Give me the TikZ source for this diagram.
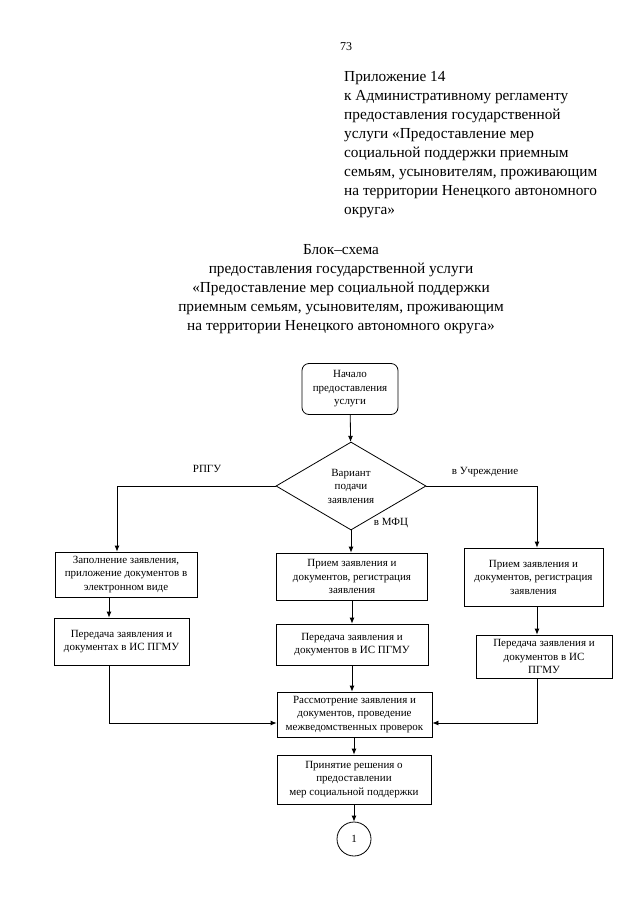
\documentclass[tikz,border=0pt]{standalone}
\usepackage{fontspec}
\setmainfont{Liberation Serif}
\usetikzlibrary{arrows.meta,positioning,shapes.geometric}
\tikzset{
  blok/.style={draw,line width=0.8pt,align=center,inner sep=2pt,
    font=\fontsize{11}{13.5}\selectfont},
  nachalo/.style={blok,rounded corners=7pt},
  vopros/.style={blok,diamond,aspect=1.7,inner sep=0pt},
  svyaz/.style={draw,circle,line width=0.8pt,inner sep=0pt,
    font=\fontsize{11}{13.5}\selectfont},
  metka/.style={font=\fontsize{11}{13.5}\selectfont},
  zagolovok/.style={inner sep=0pt,font=\fontsize{15.3}{19}\selectfont},
  arrow/.style={-{Latex[length=6pt,width=5pt]},line width=0.8pt}
}

\begin{document}
\begin{tikzpicture}[x=1pt,y=-1pt]
\useasboundingbox (0,0) rectangle (640,905);
% шапка
\node[font=\fontsize{12}{14}\selectfont] (nomer) at (346,47) {73};
\node[zagolovok,align=left,anchor=north west] (prilozh) at (344,71)
  {Приложение 14\\
   к Административному регламенту\\
   предоставления государственной\\
   услуги «Предоставление мер\\
   социальной поддержки приемным\\
   семьям, усыновителям, проживающим\\
   на территории Ненецкого автономного\\
   округа»};
\node[zagolovok,align=center,anchor=north] (nazv) at (341,244)
  {Блок–схема\\
   предоставления государственной услуги\\
   «Предоставление мер социальной поддержки\\
   приемным семьям, усыновителям, проживающим\\
   на территории Ненецкого автономного округа»};

% блоки
\node[nachalo,minimum width=96pt,minimum height=51pt] (start) at (350,389)
  {Начало\\ предоставления\\ услуги};
\node[vopros,minimum width=150pt,minimum height=88pt] (vybor) at (351,486)
  {Вариант\\ подачи\\ заявления};

\node[blok,minimum width=142pt,minimum height=45pt] (zapoln) at (126,574.5)
  {Заполнение заявления,\\ приложение документов в\\ электронном виде};
\node[blok,minimum width=135pt,minimum height=47pt] (peredR) at (121.5,641.5)
  {Передача заявления и\\ документах в ИС ПГМУ};

\node[blok,minimum width=151pt,minimum height=47pt] (priemM) at (352,576.5)
  {Прием заявления и\\ документов, регистрация\\ заявления};
\node[blok,minimum width=152pt,minimum height=41pt] (peredM) at (352,644.5)
  {Передача заявления и\\ документов в ИС ПГМУ};

\node[blok,minimum width=139pt,minimum height=58pt] (priemU) at (533.5,577)
  {Прием заявления и\\ документов, регистрация\\ заявления};
\node[blok,minimum width=136pt,minimum height=43pt] (peredU) at (544,656.5)
  {Передача заявления и\\ документов в ИС\\ ПГМУ};

\node[blok,minimum width=155pt,minimum height=45pt] (rassm) at (354.5,714.5)
  {Рассмотрение заявления и\\ документов, проведение\\ межведомственных проверок};
\node[blok,minimum width=154pt,minimum height=49pt] (reshen) at (354,779.5)
  {Принятие решения о\\ предоставлении\\ мер социальной поддержки};
\node[svyaz,minimum size=34pt] (perehod) at (354,839) {1};

% подписи ветвей
\node[metka] (lRPGU) at (207,469) {РПГУ};
\node[metka] (lMFC) at (391,523) {в МФЦ};
\node[metka] (lUchr) at (485,472) {в Учреждение};

% вспомогательные точки
\coordinate (lx) at (109,0);
\coordinate (lx0) at (117,0);
\coordinate (rx) at (537,0);
\coordinate (ly) at (0,723);

% связи
\draw[arrow] (start) -- (vybor);
\draw[arrow] (vybor.west) -| (zapoln.north -| lx0);
\draw[arrow] (zapoln.south -| lx) -- (peredR.north -| lx);
\draw[arrow] (peredR.south -| lx) |- (rassm.west |- ly);
\draw[arrow] (vybor.south) -- (priemM.north -| vybor.south);
\draw[arrow] (priemM) -- (peredM);
\draw[arrow] (peredM) -- (rassm.north -| peredM);
\draw[arrow] (vybor.east) -| (priemU.north -| rx);
\draw[arrow] (priemU.south -| rx) -- (peredU.north -| rx);
\draw[arrow] (peredU.south -| rx) |- (rassm.east |- ly);
\draw[arrow] (rassm.south -| reshen) -- (reshen);
\draw[arrow] (reshen) -- (perehod);
\end{tikzpicture}
\end{document}
